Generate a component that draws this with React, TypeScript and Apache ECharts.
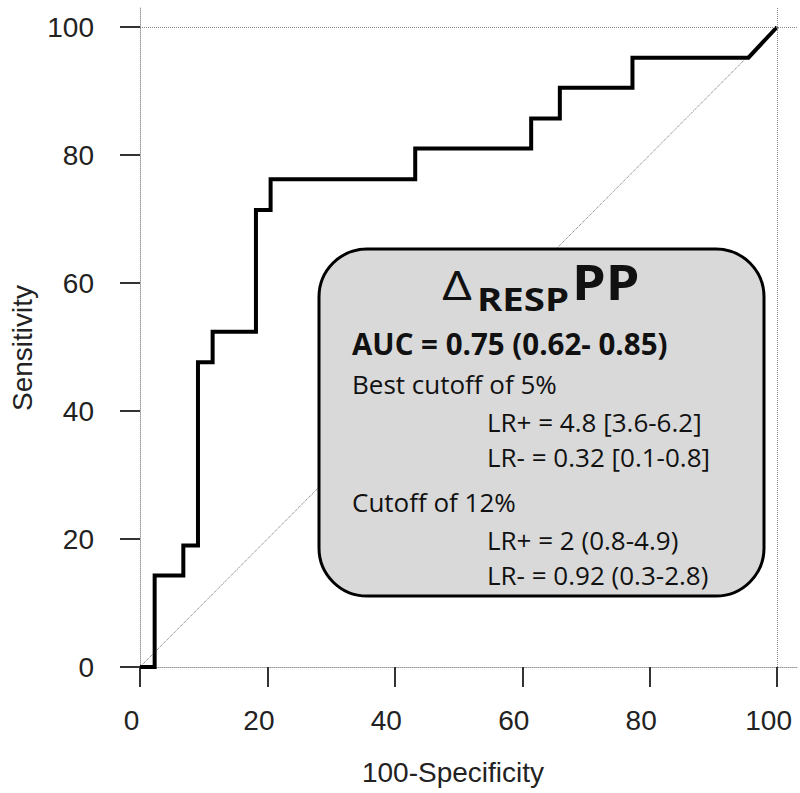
import React, { useEffect, useRef } from "react";
import * as echarts from "echarts";

// ---- data ----
const tickValues = [0, 20, 40, 60, 80, 100];
const rocFpr = [0, 2.3, 2.3, 6.8, 6.8, 9.1, 9.1, 11.4, 11.4, 18.2, 18.2, 20.5, 20.5, 43.2, 43.2, 61.4, 61.4, 65.9, 65.9, 77.3, 77.3, 95.5, 100];
const rocTpr = [0, 0, 14.3, 14.3, 19.0, 19.0, 47.6, 47.6, 52.4, 52.4, 71.4, 71.4, 76.2, 76.2, 81.0, 81.0, 85.7, 85.7, 90.5, 90.5, 95.2, 95.2, 100];
const chanceX = [0, 100];
const chanceY = [0, 100];
const xName = "100-Specificity";
const yName = "Sensitivity";
const titleDelta = "Δ";
const titleSub = "RESP";
const titleMain = "PP";
const aucText = "AUC = 0.75 (0.62- 0.85)";
const bestCutoffText = "Best cutoff of 5%";
const bestLrPlus = "LR+ = 4.8 [3.6-6.2]";
const bestLrMinus = "LR- = 0.32 [0.1-0.8]";
const cutoff12Text = "Cutoff of 12%";
const c12LrPlus = "LR+ = 2 (0.8-4.9)";
const c12LrMinus = "LR- = 0.92 (0.3-2.8)";

const AXIS_FONT = "'Liberation Sans', Arial, sans-serif";
const BOX_FONT = "'Open Sans', 'Noto Sans', sans-serif";

function txt(text: string, x: number, baseline: number, size: number, bold = false, scaleX = 1) {
  return {
    type: "text",
    x,
    y: baseline - 0.388 * size,
    scaleX,
    z: 20,
    style: {
      text,
      fontFamily: BOX_FONT,
      fontSize: size,
      fontWeight: bold ? "bold" : "normal",
      fill: "#111",
      align: "left",
      verticalAlign: "middle",
    },
  };
}

export default function App() {
  const ref = useRef<HTMLDivElement>(null);
  useEffect(() => {
    if (!ref.current) return;
    const chart = echarts.init(ref.current, null, { renderer: "svg" });
    const axisCommon = {
      type: "value",
      min: 0,
      max: 103.125,
      axisLine: { show: true, lineStyle: { color: "#999", width: 1, type: "dotted" } },
      axisTick: { show: true, length: 20, inside: false, customValues: tickValues, lineStyle: { color: "#333", width: 2 } },
      axisLabel: { customValues: tickValues, color: "#222", fontFamily: AXIS_FONT, fontSize: 28 },
      splitLine: { show: false },
      nameLocation: "middle",
      nameTextStyle: { color: "#222", fontFamily: AXIS_FONT, fontSize: 28 },
    };
    chart.setOption({
      animation: false,
      backgroundColor: "#fff",
      grid: { left: 137, right: 3, top: 7, bottom: 126, containLabel: false },
      xAxis: {
        ...axisCommon,
        name: xName,
        nameGap: 91,
        nameTextStyle: { ...axisCommon.nameTextStyle, padding: [0, 31, 0, 0] },
        axisLabel: { ...axisCommon.axisLabel, margin: 39, padding: [0, 17, 0, 0] },
      },
      yAxis: {
        ...axisCommon,
        name: yName,
        nameGap: 104,
        nameRotate: 90,
        nameTextStyle: { ...axisCommon.nameTextStyle, padding: [0, 22, 0, 0] },
        axisLabel: { ...axisCommon.axisLabel, margin: 46, padding: [8, 0, 0, 0] },
      },
      series: [
        {
          type: "line",
          data: chanceX.map((x, i) => [x, chanceY[i]]),
          symbol: "none",
          silent: true,
          lineStyle: { color: "#666", width: 1, type: "dotted" },
          markLine: {
            silent: true,
            symbol: "none",
            label: { show: false },
            lineStyle: { color: "#888", width: 1, type: "dotted" },
            data: [{ xAxis: 100 }, { yAxis: 100 }],
          },
          z: 1,
        },
        {
          type: "line",
          data: rocFpr.map((x, i) => [x, rocTpr[i]]),
          symbol: "none",
          silent: true,
          lineStyle: { color: "#000", width: 4, join: "miter" },
          z: 3,
        },
      ],
      graphic: [
        {
          type: "rect",
          z: 10,
          shape: { x: 319, y: 249, width: 445, height: 347, r: 48 },
          style: { fill: "#d9d9d9", stroke: "#000", lineWidth: 3 },
        },
        txt(titleDelta, 442, 300, 40, false, 1.3),
        txt(titleSub, 477, 311, 32, true, 1.2),
        txt(titleMain, 572, 300, 48, true, 1.12),
        txt(aucText, 352, 355, 29.5, true),
        txt(bestCutoffText, 352, 394, 26),
        txt(bestLrPlus, 487, 432, 26),
        txt(bestLrMinus, 487, 467, 26),
        txt(cutoff12Text, 352, 512, 26),
        txt(c12LrPlus, 487, 550, 26),
        txt(c12LrMinus, 487, 585, 26),
      ],
    });
    return () => chart.dispose();
  }, []);
  return <div ref={ref} style={{ position: "absolute", left: 0, top: 0, width: 800, height: 793 }} />;
}
